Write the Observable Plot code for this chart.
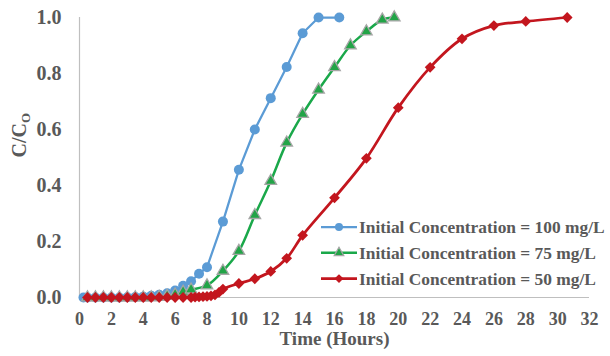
<!DOCTYPE html>
<html>
<head>
<meta charset="utf-8">
<script src="https://cdn.jsdelivr.net/npm/d3@7"></script>
<script src="https://cdn.jsdelivr.net/npm/@observablehq/plot@0.6"></script>
<style>
  html, body { margin: 0; padding: 0; background: #fff; }
  #chart { width: 610px; height: 356px; }
  #chart svg text { font-family: "Liberation Serif", "Times New Roman", serif !important; font-weight: bold; }
</style>
</head>
<body>
<div id="chart"></div>
<script>
// ---- Data ----
const seriesNames = [
  "Initial Concentration = 100 mg/L",
  "Initial Concentration = 75 mg/L",
  "Initial Concentration = 50 mg/L"
];

const hours100 = [0.25, 0.5, 1, 1.5, 2, 2.5, 3, 3.5, 4, 4.5, 5, 5.5, 6, 6.5, 7, 7.5, 8, 9, 10, 11, 12, 13, 14, 15, 16.3];
const conc100  = [0, 0, 0, 0, 0, 0, 0.001, 0.002, 0.003, 0.006, 0.01, 0.015, 0.025, 0.042, 0.058, 0.085, 0.108, 0.271, 0.456, 0.6, 0.712, 0.823, 0.944, 1.0, 1.0];

const hours75 = [0.5, 1, 1.5, 2, 2.5, 3, 3.5, 4, 4.5, 5, 5.5, 6, 6.5, 7, 8, 9, 10, 11, 12, 13, 14, 15, 16, 17, 18, 19, 19.75];
const conc75  = [0, 0, 0, 0, 0, 0, 0, 0, 0, 0.002, 0.005, 0.01, 0.02, 0.028, 0.043, 0.095, 0.166, 0.294, 0.416, 0.553, 0.655, 0.742, 0.822, 0.9, 0.95, 0.992, 1.0];

const hours50 = [0.5, 1, 1.5, 2, 2.5, 3, 3.5, 4, 4.5, 5, 5.5, 6, 6.5, 7, 7.25, 7.5, 7.75, 8, 8.25, 8.5, 8.75, 9, 10, 11, 12, 13, 14, 16, 18, 20, 22, 24, 26, 28, 30.6];
const conc50  = [0, 0, 0, 0, 0, 0, 0, 0, 0, 0, 0, 0, 0, 0, 0.001, 0.002, 0.003, 0.004, 0.006, 0.009, 0.018, 0.03, 0.05, 0.067, 0.093, 0.14, 0.222, 0.356, 0.497, 0.678, 0.822, 0.924, 0.971, 0.986, 1.0];

const xTicks = [0, 2, 4, 6, 8, 10, 12, 14, 16, 18, 20, 22, 24, 26, 28, 30, 32];
const yTicks = [0, 0.2, 0.4, 0.6, 0.8, 1.0];
const xTitle = "Time (Hours)";
const yTitle = "C/CO";

// ---- Styles ----
const blue = "#5b9bd5", green = "#1aa84a", greenMarker = "#22a447", triStroke = "#a6a6a6", red = "#c3161e";
const textColor = "#595959";
const axisColor = "#bfbfbf";
const font = "Liberation Serif";

const d100 = hours100.map((h, i) => ({h, c: conc100[i]}));
const d75  = hours75.map((h, i) => ({h, c: conc75[i]}));
const d50  = hours50.map((h, i) => ({h, c: conc50[i]}));

const plot = Plot.plot({
  width: 610,
  height: 356,
  marginLeft: 79,
  marginRight: 21,
  marginTop: 17,
  marginBottom: 59,
  style: { fontFamily: font, fontWeight: "bold", color: textColor, background: "#fff", overflow: "visible" },
  x: { domain: [0, 32] },
  y: { domain: [0, 1] },
  marks: [
    Plot.ruleX([0], { stroke: axisColor, strokeWidth: 1.2 }),
    Plot.ruleY([0], { stroke: axisColor, strokeWidth: 1.2 }),
    Plot.axisX({ ticks: xTicks, tickSize: 0, tickPadding: 14.5, tickFormat: d => String(d), label: null,
      fontSize: 18, fontFamily: font, fontWeight: "bold", fontVariant: "normal", fill: textColor }),
    Plot.axisY({ ticks: yTicks, tickSize: 0, tickPadding: 18, tickFormat: d3.format(".1f"), label: null,
      fontSize: 20, fontFamily: font, fontWeight: "bold", fontVariant: "normal", fill: textColor }),
    Plot.text([xTitle], { frameAnchor: "bottom", dy: 47.5, fontSize: 19, fontFamily: font, fill: textColor, fontWeight: "bold" }),
    Plot.text([yTitle], { frameAnchor: "left", dx: -60, rotate: -90, fontSize: 20, fontFamily: font, fill: textColor, fontWeight: "bold" }),

    Plot.line(d100, { x: "h", y: "c", stroke: blue, strokeWidth: 2.25 }),
    Plot.dot(d100, { x: "h", y: "c", r: 5, fill: blue, stroke: "none" }),

    Plot.line(d75, { x: "h", y: "c", stroke: green, strokeWidth: 2.5, curve: "catmull-rom" }),
    Plot.dot(d75, { x: "h", y: "c", symbol: "triangle", r: 4.3, fill: greenMarker, stroke: triStroke, strokeWidth: 1.3 }),

    Plot.line(d50, { x: "h", y: "c", stroke: red, strokeWidth: 2.75, curve: "catmull-rom" }),
    Plot.dot(d50, { x: "h", y: "c", symbol: "square", rotate: 45, r: 4.3, fill: red, stroke: "none" })
  ]
});

document.getElementById("chart").appendChild(plot);

// subscript for the y title
const svg = d3.select(plot);
svg.selectAll("text").filter(function () { return this.textContent === yTitle; }).each(function () {
  const t = d3.select(this);
  t.text(null);
  t.append("tspan").text("C/C");
  t.append("tspan").attr("font-size", 13).attr("dy", "0.3em").text("O");
});

// legend (inside the plot area)
const legend = svg.append("g").attr("font-family", font).attr("font-weight", "bold").attr("font-size", 17.4)
  .attr("fill", textColor).attr("text-anchor", "start");
const colors = [blue, green, red];
const legendX = 321, legendY = 227, rowH = 25.8;
seriesNames.forEach((name, i) => {
  const y = legendY + i * rowH;
  const g = legend.append("g");
  g.append("line").attr("x1", legendX).attr("x2", legendX + 36).attr("y1", y).attr("y2", y)
    .attr("stroke", colors[i]).attr("stroke-width", i === 0 ? 2.25 : (i === 1 ? 2.5 : 2.75));
  const cx = legendX + 18;
  if (i === 0) {
    g.append("circle").attr("cx", cx).attr("cy", y).attr("r", 4).attr("fill", blue);
  } else if (i === 1) {
    g.append("path").attr("d", d3.symbol(d3.symbolTriangle, 40)()).attr("transform", `translate(${cx},${y})`)
      .attr("fill", greenMarker).attr("stroke", triStroke).attr("stroke-width", 1.2);
  } else {
    g.append("path").attr("d", d3.symbol(d3.symbolSquare, 40)()).attr("transform", `translate(${cx},${y}) rotate(45)`)
      .attr("fill", red);
  }
  g.append("text").attr("x", legendX + 38).attr("y", y).attr("dy", "0.35em").text(name);
});
</script>
</body>
</html>
